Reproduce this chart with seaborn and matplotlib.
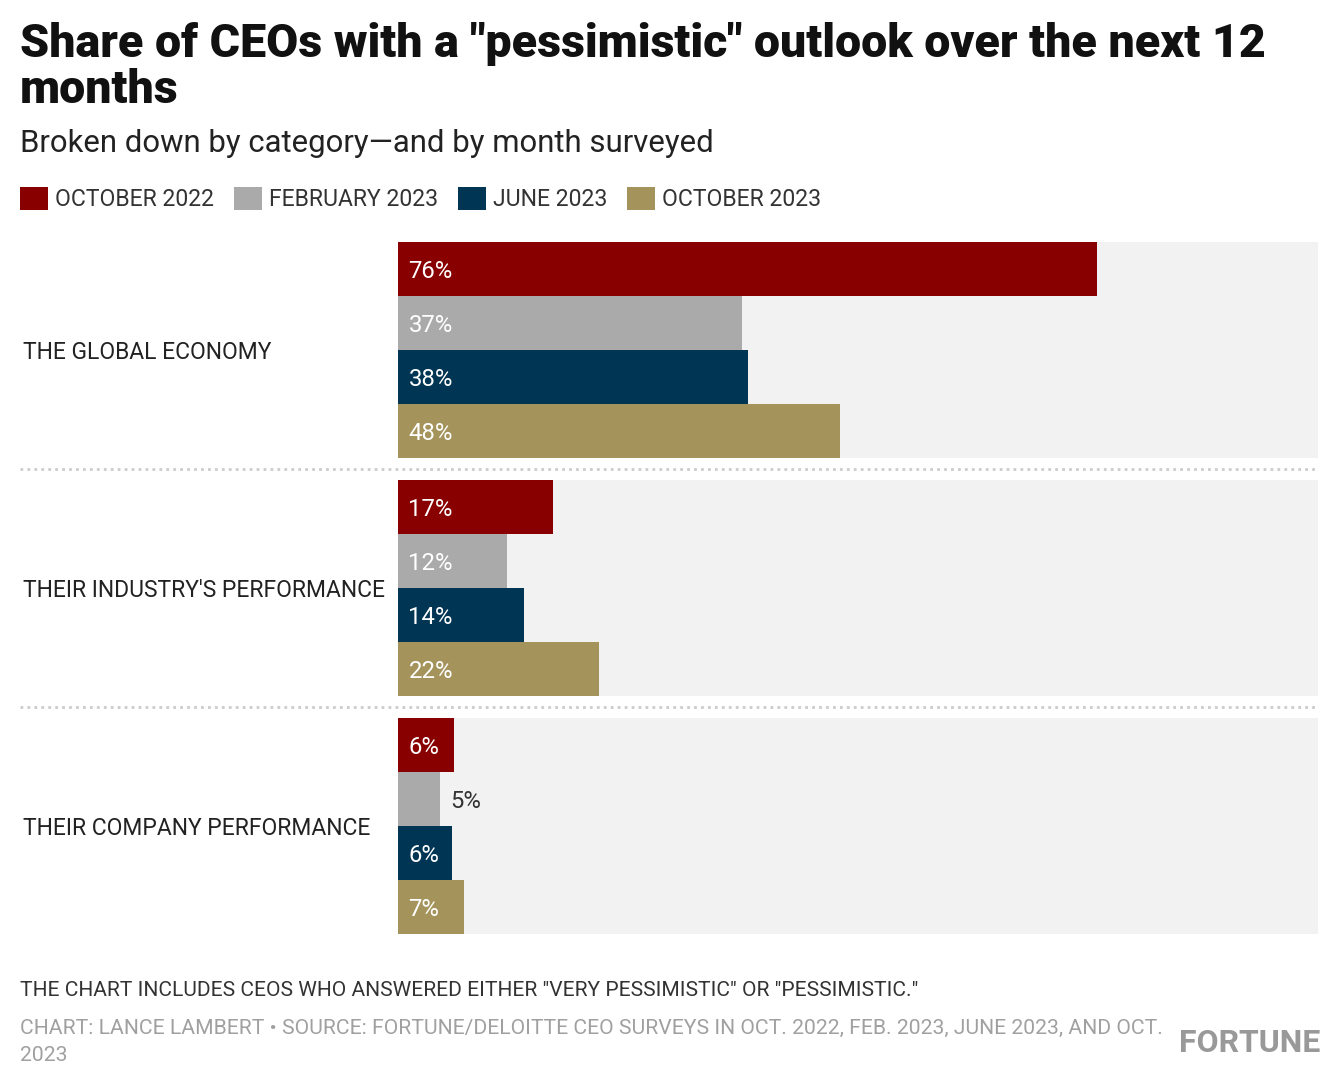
import pandas as pd
import numpy as np
import matplotlib.pyplot as plt
import seaborn as sns

categories = ["THE GLOBAL ECONOMY", "THEIR INDUSTRY'S PERFORMANCE", "THEIR COMPANY PERFORMANCE"]
months = ["OCTOBER 2022", "FEBRUARY 2023", "JUNE 2023", "OCTOBER 2023"]
oct_2022 = [76, 16.9, 6.1]
feb_2023 = [37.4, 11.9, 4.6]
jun_2023 = [38, 13.7, 5.9]
oct_2023 = [48, 21.9, 7.2]
colors = ["#880000", "#aaaaaa", "#003554", "#a4945c"]

rows = []
for m, vals in zip(months, [oct_2022, feb_2023, jun_2023, oct_2023]):
    for c, v in zip(categories, vals):
        rows.append({"Category": c, "Month": m, "Share": v})
df = pd.DataFrame(rows)

sns.set_style("white")
plt.rcParams["font.family"] = ["Roboto", "DejaVu Sans"]

W, H = 1340, 1088
fig = plt.figure(figsize=(W / 100, H / 100), dpi=100)
ax = fig.add_axes([398 / W, 1 - 934 / H, 920 / W, 692 / H])

group_w = 216 / 238
# grey track behind each group
sns.barplot(x=[100] * len(categories), y=categories, color="#f2f2f2", saturation=1,
            width=group_w, linewidth=0, ax=ax)
sns.barplot(data=df, x="Share", y="Category", hue="Month", hue_order=months,
            palette=colors, saturation=1, width=group_w, linewidth=0, ax=ax)

ax.set_xlim(0, 100)
ax.set_ylim(len(categories) - 1 + group_w / 2, -group_w / 2)
ax.set_xlabel("")
ax.set_ylabel("")
ax.set_xticks([])
sns.despine(ax=ax, left=True, bottom=True)

ax.tick_params(axis="y", length=0, pad=375 * 0.72, labelsize=16.5, labelcolor="#222222")
for lab in ax.get_yticklabels():
    lab.set_ha("left")

# value labels
for cont in ax.containers[1:]:
    for bar in cont:
        v = bar.get_width()
        yc = bar.get_y() + bar.get_height() / 2
        if v >= 5.5:
            ax.annotate(f"{v:.0f}%", (0, yc), xytext=(7.5, -1.5), textcoords="offset points",
                        va="center", ha="left", color="white", fontsize=17.2)
        else:
            ax.annotate(f"{v:.0f}%", (v, yc), xytext=(7.5, -1.5), textcoords="offset points",
                        va="center", ha="left", color="#333333", fontsize=17.2)

# dotted separators
for y in np.arange(len(categories) - 1) + 0.5:
    ax.axhline(y, xmin=(20 - 398) / 920, xmax=1, color="#cccccc", linestyle=(0, (1, 1.5)),
               linewidth=2, clip_on=False)

# legend
handles, labels = ax.get_legend_handles_labels()
ax.get_legend().remove()
fig.legend(handles, labels, loc="center left", bbox_to_anchor=(20 / W, 1 - 199 / H),
           ncol=4, frameon=False, fontsize=16.6, handlelength=1.21, handleheight=1.21,
           handletextpad=0.3, columnspacing=0.87, borderpad=0, borderaxespad=0,
           labelcolor="#333333")

# titles
fig.text(20 / W, 1 - 57 / H, 'Share of CEOs with a "pessimistic" outlook over the next 12',
         fontsize=33.5, fontweight="black", va="baseline", color="#111111")
fig.text(20 / W, 1 - 103 / H, "months",
         fontsize=33.5, fontweight="black", va="baseline", color="#111111")
fig.text(20 / W, 1 - 152 / H, "Broken down by category\u2014and by month surveyed",
         fontsize=22.4, va="baseline", color="#222222")

# footer
fig.text(20 / W, 1 - 996 / H,
         'THE CHART INCLUDES CEOS WHO ANSWERED EITHER "VERY PESSIMISTIC" OR "PESSIMISTIC."',
         fontsize=15.1, va="baseline", color="#333333")
fig.text(20 / W, 1 - 1034 / H,
         "CHART: LANCE LAMBERT \u2022 SOURCE: FORTUNE/DELOITTE CEO SURVEYS IN OCT. 2022, FEB. 2023, JUNE 2023, AND OCT.",
         fontsize=15.2, va="baseline", color="#a0a0a0")
fig.text(20 / W, 1 - 1061 / H, "2023", fontsize=15.2, va="baseline", color="#a0a0a0")
fig.text(1320 / W, 1 - 1052 / H, "FORTUNE", fontsize=23, fontweight="bold",
         va="baseline", ha="right", color="#999999")

fig.savefig("out.png", dpi=100)
